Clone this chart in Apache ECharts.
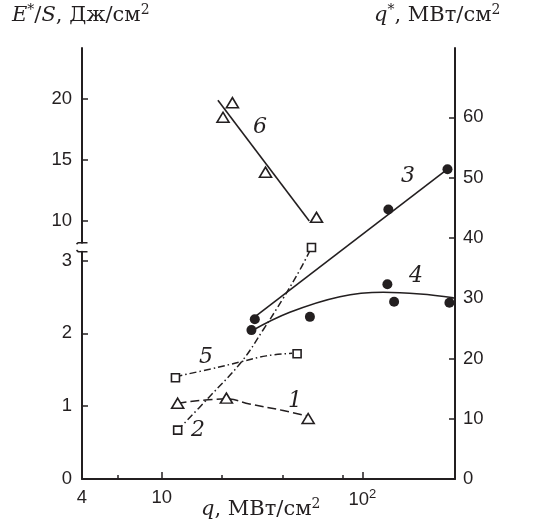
<!DOCTYPE html>
<html>
<head>
<meta charset="utf-8">
<script src="https://cdn.jsdelivr.net/npm/echarts@6/dist/echarts.min.js"></script>
<style>
  html, body { margin: 0; padding: 0; background: #fff; }
  #chart { width: 550px; height: 526px; }
</style>
</head>
<body>
<div id="chart"></div>
<script>
// Horizontal scale q, МВт/см² (logarithmic)
const qMin = 4;
const qMax = 290;
const qMajorTicks = [10, 100];
const qMinorTicks = [6, 20, 40, 80];
const qLabels = [4, 10, 100];

// Left scale E*/S, Дж/см² — lower part and upper part (broken axis)
const eLowMin = 0, eLowMax = 3.12;
const eLowTicks = [0, 1, 2, 3];
const eHighMin = 8.22, eHighMax = 24.18;
const eHighTicks = [10, 15, 20];

// Right scale q*, МВт/см²
const qsMin = 0, qsMax = 71.5;
const qsTicks = [0, 10, 20, 30, 40, 50, 60];

// Curve 1 — E*/S (lower left scale)
const s1Points = [[12.0, 1.04], [21.0, 1.11], [53.7, 0.83]];
const s1Curve = [[12.0, 1.04], [21.0, 1.10], [27.4, 1.03], [40.3, 0.94], [54.3, 0.86]];

// Curve 2 — q* (right scale)
const s2Points = [[12.0, 8.1], [55.8, 38.4]];
const s2Curve = [[12.0, 8.1], [17.3, 13.65], [25.0, 19.46], [32.0, 24.72], [40.3, 29.98], [48.8, 34.67], [55.8, 38.4]];

// Curve 3 — q* (right scale)
const s3Points = [[29.1, 26.5], [134.9, 44.7], [266, 51.4]];
const s3Line = [[29.1, 26.9], [266, 51.4]];

// Curve 4 — q* (right scale)
const s4Points = [[28.0, 24.7], [54.8, 26.9], [133.4, 32.3], [144.1, 29.4], [272, 29.25]];
const s4Curve = [[28.0, 24.55], [43.5, 27.65], [77.3, 30.24], [127.4, 30.97], [194.3, 30.69], [285, 30.08]];

// Curve 5 — E*/S (lower left scale)
const s5Points = [[11.7, 1.39], [47.3, 1.72]];
const s5Curve = [[11.7, 1.405], [17.3, 1.507], [25.0, 1.611], [33.2, 1.69], [44.7, 1.727]];

// Curve 6 — E*/S (upper left scale)
const s6Points = [[22.5, 19.7], [20.2, 18.5], [32.9, 14.0], [59.1, 10.3]];
const s6Line = [[19.05, 19.9], [54.4, 10.0]];

const INK = '#231f20';
const SANS = 'Liberation Sans, Arial, sans-serif';
const SERIF = 'DejaVu Serif, serif';
const TICK_FONT = 18.5;

const dashDot = [7, 3, 1.5, 3];
const longDash = [9, 4];

function axisBase(extra) {
  return Object.assign({
    splitLine: { show: false },
    axisLine: { show: true, onZero: false, lineStyle: { color: INK, width: 2 } },
    axisTick: { show: true, inside: true, length: 6, lineStyle: { color: INK, width: 1.5 } },
    axisLabel: { color: INK, fontFamily: SANS, fontSize: TICK_FONT }
  }, extra);
}

function titleRich(size) {
  return {
    i: { fontFamily: SERIF, fontStyle: 'italic', fontSize: size, fill: INK },
    n: { fontFamily: SERIF, fontSize: size, fill: INK },
    s: { fontFamily: SERIF, fontSize: Math.round(size * 0.68), fill: INK, verticalAlign: 'top', padding: [0, 0, Math.round(size * 0.5), 0] }
  };
}

const chart = echarts.init(document.getElementById('chart'), null, { renderer: 'canvas' });

const gridL = 82, gridR = 95;
const markerStyle = { color: '#fff', borderColor: INK, borderWidth: 1.6, opacity: 1 };
const dotStyle = { color: INK, opacity: 1 };

const option = {
  animation: false,
  backgroundColor: '#fff',
  grid: [
    { left: gridL, right: gridR, top: 48, bottom: 47 },        // full height (right scale)
    { left: gridL, right: gridR, top: 251.7, bottom: 47 },     // lower left scale
    { left: gridL, right: gridR, top: 48, bottom: 283.3 }      // upper left scale
  ],
  xAxis: [
    axisBase({
      gridIndex: 0, type: 'log', logBase: 10, min: qMin, max: qMax,
      axisTick: { show: true, inside: true, length: 7, customValues: qMajorTicks, lineStyle: { color: INK, width: 1.5 } },
      axisLabel: {
        color: INK, fontFamily: SANS, fontSize: TICK_FONT, margin: 9,
        customValues: qLabels,
        formatter: v => (Math.abs(v - 100) < 1e-6 ? '10{sup|2}' : String(Math.round(v))),
        rich: { sup: { fontFamily: SANS, fontSize: 13, verticalAlign: 'top', padding: [0, 0, 10, 0], color: INK } }
      }
    }),
    { gridIndex: 1, type: 'log', min: qMin, max: qMax, show: false },
    { gridIndex: 2, type: 'log', min: qMin, max: qMax, show: false },
    {
      gridIndex: 0, type: 'log', min: qMin, max: qMax, position: 'bottom',
      splitLine: { show: false }, axisLine: { show: false }, axisLabel: { show: false },
      axisTick: { show: true, inside: true, length: 4, customValues: qMinorTicks, lineStyle: { color: INK, width: 1.5 } }
    }
  ],
  yAxis: [
    axisBase({
      gridIndex: 0, type: 'value', position: 'right', min: qsMin, max: qsMax,
      axisTick: { show: true, inside: true, length: 6, customValues: qsTicks, lineStyle: { color: INK, width: 1.5 } },
      axisLabel: { color: INK, fontFamily: SANS, fontSize: TICK_FONT, margin: 8, customValues: qsTicks }
    }),
    axisBase({
      gridIndex: 1, type: 'value', position: 'left', min: eLowMin, max: eLowMax,
      axisTick: { show: true, inside: true, length: 6, customValues: eLowTicks, lineStyle: { color: INK, width: 1.5 } },
      axisLabel: { color: INK, fontFamily: SANS, fontSize: TICK_FONT, margin: 10, customValues: eLowTicks }
    }),
    axisBase({
      gridIndex: 2, type: 'value', position: 'left', min: eHighMin, max: eHighMax,
      axisTick: { show: true, inside: true, length: 6, customValues: eHighTicks, lineStyle: { color: INK, width: 1.5 } },
      axisLabel: { color: INK, fontFamily: SANS, fontSize: TICK_FONT, margin: 10, customValues: eHighTicks }
    })
  ],
  series: [
    // fitted curves and lines
    { type: 'line', xAxisIndex: 1, yAxisIndex: 1, data: s1Curve, smooth: 0.4, symbol: 'none',
      lineStyle: { color: INK, width: 1.5, type: longDash }, z: 2 },
    { type: 'line', xAxisIndex: 0, yAxisIndex: 0, data: s2Curve, smooth: 0.4, symbol: 'none',
      lineStyle: { color: INK, width: 1.5, type: dashDot }, z: 2 },
    { type: 'line', xAxisIndex: 0, yAxisIndex: 0, data: s3Line, symbol: 'none',
      lineStyle: { color: INK, width: 1.6 }, z: 2 },
    { type: 'line', xAxisIndex: 0, yAxisIndex: 0, data: s4Curve, smooth: 0.4, symbol: 'none',
      lineStyle: { color: INK, width: 1.6 }, z: 2 },
    { type: 'line', xAxisIndex: 1, yAxisIndex: 1, data: s5Curve, smooth: 0.4, symbol: 'none',
      lineStyle: { color: INK, width: 1.5, type: dashDot }, z: 2 },
    { type: 'line', xAxisIndex: 2, yAxisIndex: 2, data: s6Line, symbol: 'none',
      lineStyle: { color: INK, width: 1.6 }, z: 2 },
    // measured points
    { type: 'scatter', xAxisIndex: 1, yAxisIndex: 1, data: s1Points, symbol: 'triangle', symbolSize: [12, 10],
      itemStyle: markerStyle, z: 5 },
    { type: 'scatter', xAxisIndex: 0, yAxisIndex: 0, data: s2Points, symbol: 'rect', symbolSize: 8,
      itemStyle: markerStyle, z: 5 },
    { type: 'scatter', xAxisIndex: 0, yAxisIndex: 0, data: s3Points, symbol: 'circle', symbolSize: 10,
      itemStyle: dotStyle, z: 5 },
    { type: 'scatter', xAxisIndex: 0, yAxisIndex: 0, data: s4Points, symbol: 'circle', symbolSize: 10,
      itemStyle: dotStyle, z: 5 },
    { type: 'scatter', xAxisIndex: 1, yAxisIndex: 1, data: s5Points, symbol: 'rect', symbolSize: 8,
      itemStyle: markerStyle, z: 5 },
    { type: 'scatter', xAxisIndex: 2, yAxisIndex: 2, data: s6Points, symbol: 'triangle', symbolSize: [12, 10],
      itemStyle: markerStyle, z: 5 }
  ],
  graphic: [
    // axis titles
    { type: 'text', left: 12, top: 3, z: 10, style: { text: '{i|E}{s|*}{n|/}{i|S}{n|, Дж/см}{s|2}', rich: titleRich(21) } },
    { type: 'text', left: 374, top: 3, z: 10, style: { text: '{i|q}{s|*}{n|, МВт/см}{s|2}', rich: titleRich(21) } },
    { type: 'text', left: 201, top: 497, z: 10, style: { text: '{i|q}{n|, МВт/см}{s|2}', rich: titleRich(21) } },
    // curve numbers
    { type: 'text', left: 288, top: 390, z: 10, style: { text: '1', font: 'italic 22px ' + SERIF, fill: INK } },
    { type: 'text', left: 191, top: 419, z: 10, style: { text: '2', font: 'italic 22px ' + SERIF, fill: INK } },
    { type: 'text', left: 401, top: 165, z: 10, style: { text: '3', font: 'italic 22px ' + SERIF, fill: INK } },
    { type: 'text', left: 409, top: 265, z: 10, style: { text: '4', font: 'italic 22px ' + SERIF, fill: INK } },
    { type: 'text', left: 199, top: 346, z: 10, style: { text: '5', font: 'italic 22px ' + SERIF, fill: INK } },
    { type: 'text', left: 253, top: 116, z: 10, style: { text: '6', font: 'italic 22px ' + SERIF, fill: INK } },
    // break marks on the left scale
    { type: 'polyline', z: 10, shape: { points: [[76.5, 244.2], [78.2, 242.7], [87.5, 242.7]] },
      style: { stroke: INK, lineWidth: 1.6, fill: null } },
    { type: 'polyline', z: 10, shape: { points: [[76.5, 250.2], [78.2, 251.7], [87.5, 251.7]] },
      style: { stroke: INK, lineWidth: 1.6, fill: null } }
  ]
};

chart.setOption(option);
</script>
</body>
</html>
